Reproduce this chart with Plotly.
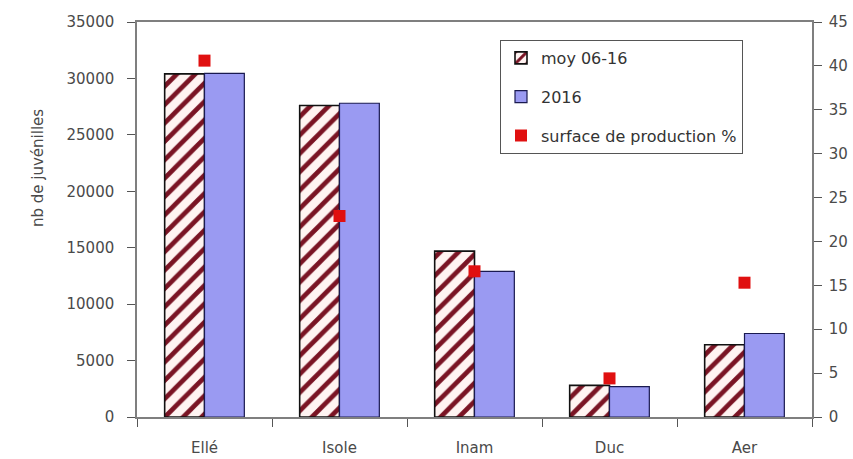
import plotly.graph_objects as go

# Rivers and juvenile counts
rivers = ["Ellé", "Isole", "Inam", "Duc", "Aer"]
moy_06_16 = [30400, 27600, 14700, 2800, 6400]
val_2016 = [30450, 27800, 12900, 2700, 7400]
surface_pct = [40.6, 22.9, 16.6, 4.4, 15.3]

left_ticks = [0, 5000, 10000, 15000, 20000, 25000, 30000, 35000]
right_ticks = [0, 5, 10, 15, 20, 25, 30, 35, 40, 45]

FONT = "DejaVu Sans"
TXT = "#4a4a4a"
AX = "#7f7f7f"

fig = go.Figure()

fig.add_trace(go.Bar(
    x=rivers, y=moy_06_16, name="moy 06-16", legendgroup="a",
    marker=dict(
        color="#fff4f2",
        line=dict(color="#111111", width=1.6),
        pattern=dict(shape="/", fgcolor="#7a1424", bgcolor="#fff4f2",
                     size=13, solidity=0.36, fillmode="replace"),
    ),
))
fig.add_trace(go.Bar(
    x=rivers, y=val_2016, name="2016", legendgroup="b",
    marker=dict(color="#9a9af2", line=dict(color="#1a1a50", width=1.2)),
))
fig.add_trace(go.Scatter(
    x=rivers, y=surface_pct, name="surface de production %", legendgroup="c",
    mode="markers", yaxis="y2",
    marker=dict(symbol="square", size=12, color="#e01010"),
))

W, H = 853, 459
L, R, T, B = 137, 41, 22, 42

fig.update_layout(
    width=W, height=H,
    margin=dict(l=L, r=R, t=T, b=B, autoexpand=False),
    paper_bgcolor="white", plot_bgcolor="white",
    font=dict(family=FONT, size=15, color=TXT),
    barmode="group", bargap=0.41, bargroupgap=0,
    showlegend=True,
    legend=dict(
        x=(500 - L) / (W - L - R), y=(417 - 40) / (H - T - B),
        xanchor="left", yanchor="top",
        bgcolor="white", bordercolor="#555555", borderwidth=1,
        font=dict(family=FONT, size=16, color="#333333"),
        traceorder="grouped", tracegroupgap=15, itemwidth=30,
    ),
    xaxis=dict(
        type="category", categoryorder="array", categoryarray=rivers,
        showline=True, linecolor=AX, linewidth=1.5, mirror=True,
        ticks="outside", tickson="boundaries", ticklen=8, tickcolor="#555555",
        ticklabelstandoff=16, showgrid=False, zeroline=False,
        tickfont=dict(family=FONT, size=15, color=TXT),
    ),
    yaxis=dict(
        range=[0, 35000], tickvals=left_ticks,
        ticktext=[str(v) for v in left_ticks],
        showline=True, linecolor=AX, linewidth=1.5,
        ticks="outside", ticklen=8, tickcolor="#555555",
        ticklabelstandoff=10, showgrid=False, zeroline=False,
        tickfont=dict(family=FONT, size=15, color=TXT),
    ),
    yaxis2=dict(
        overlaying="y", side="right", anchor="x",
        range=[0, 45], tickvals=right_ticks,
        ticktext=[str(v) for v in right_ticks],
        showline=True, linecolor=AX, linewidth=1.5,
        ticks="outside", ticklen=8, tickcolor="#555555",
        ticklabelstandoff=4, showgrid=False, zeroline=False,
        tickfont=dict(family=FONT, size=15, color=TXT),
    ),
    annotations=[dict(
        text="nb de juvénilles", textangle=-90,
        xref="paper", yref="paper",
        x=(38 - L) / (W - L - R), y=(417 - 168) / (H - T - B),
        xanchor="center", yanchor="middle", showarrow=False,
        font=dict(family=FONT, size=15, color=TXT),
    )],
)

fig.write_html("out.html")
